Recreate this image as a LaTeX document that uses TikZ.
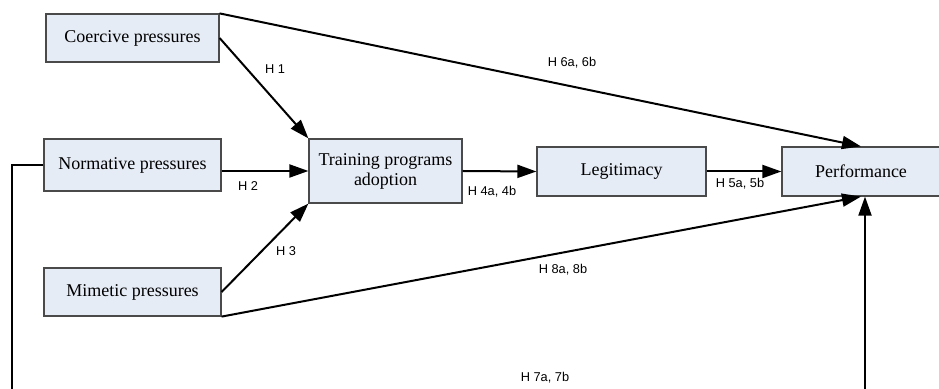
\documentclass[tikz,border=0pt]{standalone}
\usepackage{fontspec}
\setmainfont{Liberation Serif}
\newfontfamily\labelfont{Liberation Sans}
\usepackage{xcolor}
\usetikzlibrary{arrows.meta}

\definecolor{boxfill}{HTML}{E6ECF6}
\definecolor{boxline}{HTML}{4A4A4A}

\tikzset{
  construct/.style={draw=boxline, line width=0.6pt, fill=boxfill, inner sep=0pt,
                    font=\fontsize{9}{10}\selectfont, align=center},
  hyparrow/.style={line width=1pt, -{Triangle[length=9.5pt,width=6.5pt]}},
  hyp/.style={font=\labelfont\fontsize{6.4}{7}\selectfont, inner sep=1pt}
}

\begin{document}
\begin{tikzpicture}[x=0.5pt, y=-0.5pt]
  \useasboundingbox (0,0) rectangle (939,389);
  % constructs
  \node[construct, minimum width=86.5pt, minimum height=24pt] (coercive) at (132.5,38) {Coercive pressures};
  \node[construct, minimum width=88.5pt, minimum height=26pt] (normative) at (132.5,165) {Normative pressures};
  \node[construct, minimum width=88.5pt, minimum height=24pt] (mimetic) at (132.5,292) {Mimetic pressures};
  \node[construct, minimum width=76.5pt, minimum height=32pt] (training) at (385.5,171) {Training programs\\adoption};
  \node[construct, minimum width=84.5pt, minimum height=24.5pt] (legit) at (621.5,171.5) {Legitimacy};
  \node[construct, minimum width=79pt, minimum height=24.5pt] (perf) at (861,171.5) {Performance};

  % hypotheses
  \draw[hyparrow] (coercive.east) -- (training.north west);
  \draw[hyparrow] (normative.east |- training.west) -- (training.west);
  \draw[hyparrow] (mimetic.east) -- (training.south west);
  \draw[hyparrow] (training.east) -- (legit.west);
  \draw[hyparrow] (legit.east) -- (perf.west);
  \draw[hyparrow] (coercive.north east) -- (perf.north);
  \draw[hyparrow] (mimetic.south east) -- (perf.south);
  \coordinate (loopl) at (12,420);
  \coordinate (loopr) at (865,420);
  \draw[hyparrow] (normative.west) -| (loopl) -- (loopr) -- (perf.south -| loopr);

  % labels
  \node[hyp] (h1) at (275,69) {H 1};
  \node[hyp] (h2) at (248,186) {H 2};
  \node[hyp] (h3) at (286,251) {H 3};
  \node[hyp] (h4) at (492,192) {H 4a, 4b};
  \node[hyp] (h5) at (740,184) {H 5a, 5b};
  \node[hyp] (h6) at (572,63) {H 6a, 6b};
  \node[hyp] (h8) at (563,270) {H 8a, 8b};
  \node[hyp] (h7) at (545,378) {H 7a, 7b};
\end{tikzpicture}
\end{document}
